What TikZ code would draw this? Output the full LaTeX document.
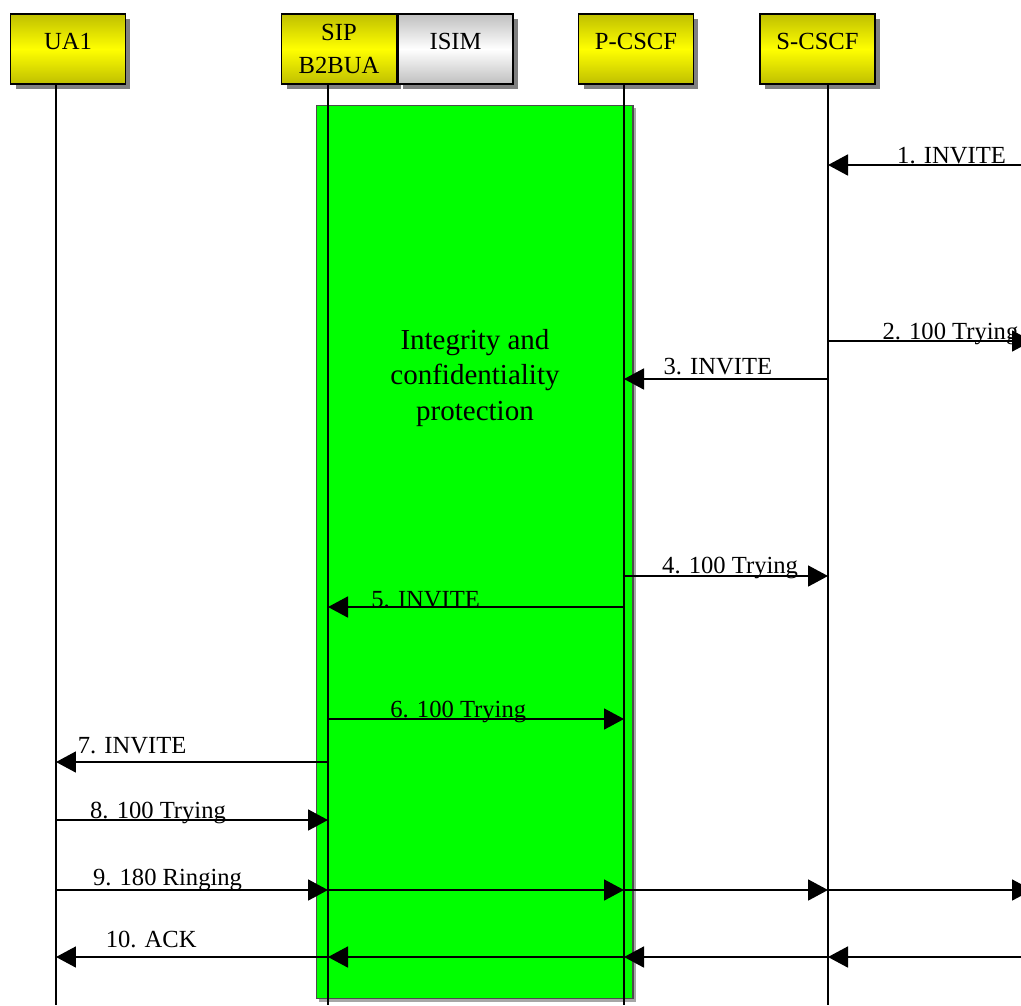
\documentclass[tikz,border=0pt]{standalone}
\usepackage{fontspec}
\setmainfont{Liberation Serif}
\usepackage{xcolor}
\usepackage{tikz}
\usetikzlibrary{positioning,shapes,arrows.meta,shadows}
\tikzset{
    entity/.style={rectangle, draw, line width=0.9pt, inner sep=2pt,
        minimum width=2.3cm, minimum height=1.4cm, align=center,
        top color=yellow!75!black, bottom color=yellow!75!black, middle color=yellow,
        drop shadow={shadow xshift=0.1cm, shadow yshift=-0.1cm, fill=gray, opacity=1},
        font=\fontsize{14}{18.7}\selectfont},
    card/.style={entity, top color=gray!50, bottom color=gray!50, middle color=white},
    one line/.style={text height=0.35cm, text depth=0.35cm},
    zone/.style={rectangle, fill=green, draw=black!70, line width=0.6pt,
        drop shadow={shadow xshift=0.06cm, shadow yshift=-0.06cm, fill=gray!70, opacity=1}},
    lifeline/.style={line width=0.7pt},
    msg/.style={line width=1pt, -{Triangle[length=0.4cm, width=0.42cm]}},
    msg label/.style={anchor=base, inner sep=0pt, font=\fontsize{14}{16}\selectfont}
}

\begin{document}
\begin{tikzpicture}[x=0.02cm, y=-0.02cm]
    \useasboundingbox (0,0) rectangle (1021,1005);
    \coordinate (bottom) at (0,1005);
    \coordinate (edge) at (1021,0);
    \coordinate (edge out) at (1032,0);

    % Protected zone
    \node[zone, minimum width=6.34cm, minimum height=17.88cm] (protected) at (474.5,552) {};
    \node[font=\fontsize{16.5}{20.2}\selectfont, align=center] (protection) at (475,378)
        {Integrity and\\confidentiality\\protection};

    % Entities
    \node[entity, one line] (ua1) at (68,49) {UA1};
    \node[entity] (sip) at (339,49) {SIP\\B2BUA};
    \node[card, one line, right=0pt of sip] (isim) {ISIM};
    \node[entity, one line] (pcscf) at (636,49) {P-CSCF};
    \node[entity, one line] (scscf) at (817.5,49) {S-CSCF};

    % Lifelines
    \coordinate (ua1 line) at ([xshift=-0.24cm]ua1.south);
    \coordinate (sip line) at ([xshift=-0.22cm]sip.south);
    \coordinate (pcscf line) at ([xshift=-0.24cm]pcscf.south);
    \coordinate (scscf line) at ([xshift=0.21cm]scscf.south);
    \draw[lifeline] (ua1 line) -- (ua1 line |- bottom);
    \draw[lifeline] (sip line) -- (sip line |- bottom);
    \draw[lifeline] (pcscf line) -- (pcscf line |- bottom);
    \draw[lifeline] (scscf line) -- (scscf line |- bottom);

    % Message rows
    \coordinate (m1) at (0,165);
    \coordinate (m2) at (0,341);
    \coordinate (m3) at (0,379);
    \coordinate (m4) at (0,576);
    \coordinate (m5) at (0,607);
    \coordinate (m6) at (0,719);
    \coordinate (m7) at (0,762);
    \coordinate (m8) at (0,820);
    \coordinate (m9) at (0,890);
    \coordinate (m10) at (0,957);

    % Messages
    \draw[msg] (edge |- m1) -- (scscf line |- m1)
        node[msg label, pos=0.36, yshift=0.04cm] {1. INVITE};
    \draw[msg] (scscf line |- m2) -- (edge out |- m2)
        node[msg label, pos=0.6, yshift=0.04cm] {2. 100 Trying};
    \draw[msg] (scscf line |- m3) -- (pcscf line |- m3)
        node[msg label, pos=0.54, yshift=0.1cm] {3. INVITE};
    \draw[msg] (pcscf line |- m4) -- (scscf line |- m4)
        node[msg label, pos=0.52, yshift=0.06cm] {4. 100 Trying};
    \draw[msg] (pcscf line |- m5) -- (sip line |- m5)
        node[msg label, pos=0.67] {5. INVITE};
    \draw[msg] (sip line |- m6) -- (pcscf line |- m6)
        node[msg label, pos=0.44, yshift=0.04cm] {6. 100 Trying};
    \draw[msg] (sip line |- m7) -- (ua1 line |- m7)
        node[msg label, pos=0.72, yshift=0.18cm] {7. INVITE};
    \draw[msg] (ua1 line |- m8) -- (sip line |- m8)
        node[msg label, pos=0.375, yshift=0.04cm] {8. 100 Trying};
    % 180 Ringing passed on hop by hop
    \draw[msg] (ua1 line |- m9) -- (sip line |- m9)
        node[msg label, pos=0.41, yshift=0.1cm] {9. 180 Ringing};
    \draw[msg] (sip line |- m9) -- (pcscf line |- m9);
    \draw[msg] (pcscf line |- m9) -- (scscf line |- m9);
    \draw[msg] (scscf line |- m9) -- (edge out |- m9);
    % ACK back to UA1
    \draw[msg] (edge |- m10) -- (scscf line |- m10);
    \draw[msg] (scscf line |- m10) -- (pcscf line |- m10);
    \draw[msg] (pcscf line |- m10) -- (sip line |- m10);
    \draw[msg] (sip line |- m10) -- (ua1 line |- m10)
        node[msg label, pos=0.65, yshift=0.2cm] {10. ACK};
\end{tikzpicture}
\end{document}
